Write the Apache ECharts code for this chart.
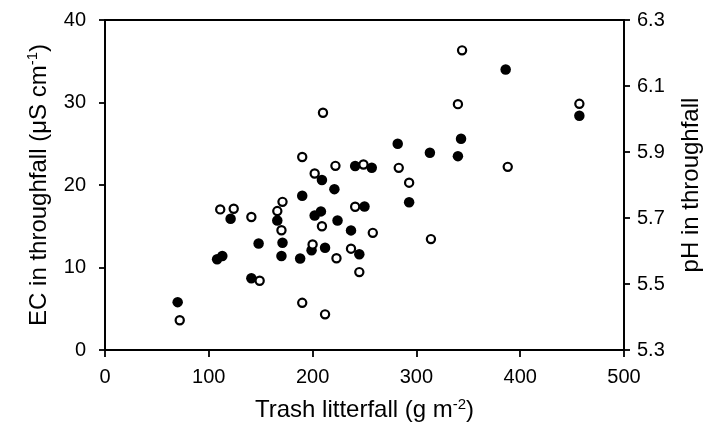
<!DOCTYPE html>
<html>
<head>
<meta charset="utf-8">
<script src="https://cdn.jsdelivr.net/npm/echarts@6/dist/echarts.min.js"></script>
<style>
  html, body { margin: 0; padding: 0; background: #fff; }
  #chart { width: 706px; height: 423px; }
</style>
</head>
<body>
<div id="chart"></div>
<script>
// EC in throughfall (filled circles, left axis)
const ecLitter = [70, 108, 113, 121, 141, 148, 166, 171, 170, 188, 190, 199, 202, 208, 209,
  212, 221, 224, 237, 241, 245, 250, 257, 282, 293, 313, 340, 343, 386, 457];
const ecValues = [5.8, 11.0, 11.4, 15.9, 8.7, 12.9, 15.7, 13.0, 11.4, 11.1, 18.7, 12.1, 16.3, 16.8, 20.6,
  12.4, 19.5, 15.7, 14.5, 22.3, 11.6, 17.4, 22.1, 25.0, 17.9, 23.9, 23.5, 25.6, 34.0, 28.4];

// pH in throughfall (open circles, right axis)
const phLitter = [72, 111, 124, 141, 149, 166, 170, 171, 190, 190, 200, 202, 209, 210, 212,
  222, 223, 237, 241, 245, 249, 258, 283, 293, 314, 340, 344, 388, 457];
const phValues = [5.39, 5.726, 5.728, 5.703, 5.51, 5.721, 5.663, 5.749, 5.885, 5.443, 5.62, 5.835, 5.675, 6.019, 5.408,
  5.858, 5.578, 5.607, 5.734, 5.536, 5.862, 5.655, 5.852, 5.807, 5.636, 6.045, 6.208, 5.855, 6.046];

const phTicks = [5.3, 5.5, 5.7, 5.9, 6.1, 6.3];

const FONT = "Liberation Sans";
const chart = echarts.init(document.getElementById("chart"));

const supStyle = {
  fontFamily: FONT,
  fontSize: 15,
  lineHeight: 15,
  verticalAlign: "top",
  color: "#000",
};

chart.setOption({
  animation: false,
  backgroundColor: "#fff",
  grid: {
    left: 105,
    right: 82,
    top: 20,
    bottom: 73,
    outerBoundsMode: "none",
    show: true,
    borderColor: "#000",
    borderWidth: 1.8,
  },
  xAxis: {
    type: "value",
    min: 0,
    max: 500,
    interval: 100,
    name: "Trash litterfall (g m{sup|-2})",
    nameLocation: "middle",
    nameGap: 47,
    nameTextStyle: {
      fontFamily: FONT,
      fontSize: 24,
      color: "#000",
      lineHeight: 27,
      rich: { sup: supStyle },
    },
    axisLine: { lineStyle: { color: "#000", width: 1.8 } },
    axisTick: { inside: false, length: 7, lineStyle: { color: "#000", width: 1.8 } },
    axisLabel: { margin: 17, fontFamily: FONT, fontSize: 20, color: "#000" },
    splitLine: { show: false },
  },
  yAxis: [
    {
      type: "value",
      position: "left",
      min: 0,
      max: 40,
      interval: 10,
      name: "EC in throughfall (μS cm{sup|-1})",
      nameLocation: "middle",
      nameRotate: 90,
      nameGap: 37,
      nameTextStyle: {
        fontFamily: FONT,
        fontSize: 24,
        color: "#000",
        lineHeight: 27,
        rich: { sup: supStyle },
      },
      axisLine: { show: true, lineStyle: { color: "#000", width: 1.8 } },
      axisTick: { show: true, length: 6, lineStyle: { color: "#000", width: 1.8 } },
      axisLabel: { margin: 19, fontFamily: FONT, fontSize: 20, color: "#000" },
      splitLine: { show: false },
    },
    {
      type: "value",
      position: "right",
      min: 5.3,
      max: 6.3,
      name: "pH in throughfall",
      nameLocation: "middle",
      nameRotate: 90,
      nameGap: 55,
      nameTextStyle: { fontFamily: FONT, fontSize: 24, color: "#000" },
      axisLine: { show: true, lineStyle: { color: "#000", width: 1.8 } },
      axisTick: {
        show: true,
        length: 6,
        customValues: phTicks,
        lineStyle: { color: "#000", width: 1.8 },
      },
      axisLabel: {
        margin: 13,
        fontFamily: FONT,
        fontSize: 20,
        color: "#000",
        customValues: phTicks,
        formatter: (v) => v.toFixed(1),
      },
      splitLine: { show: false },
    },
  ],
  series: [
    {
      name: "EC",
      type: "scatter",
      yAxisIndex: 0,
      symbol: "circle",
      symbolSize: 10.5,
      itemStyle: { color: "#000", opacity: 1 },
      data: ecLitter.map((x, i) => [x, ecValues[i]]),
    },
    {
      name: "pH",
      type: "scatter",
      yAxisIndex: 1,
      symbol: "circle",
      symbolSize: 8.2,
      itemStyle: { color: "#fff", borderColor: "#000", borderWidth: 2.2, opacity: 1 },
      data: phLitter.map((x, i) => [x, phValues[i]]),
    },
  ],
});
</script>
</body>
</html>
